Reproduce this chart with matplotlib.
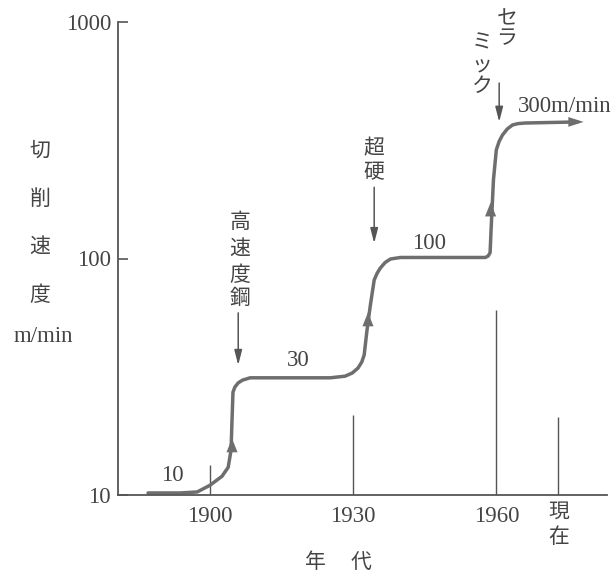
import numpy as np
import matplotlib.pyplot as plt

plt.rcParams['font.family'] = ['Liberation Serif', 'Noto Sans CJK JP']

# 切削速度の変遷
years = [1887.0, 1893.7, 1897.3, 1900.0, 1902.5, 1903.8, 1904.4, 1904.6, 1904.8,
         1905.2, 1905.9, 1906.8, 1908.4, 1925.2, 1928.3, 1929.8, 1931.0, 1931.8,
         1932.3, 1932.9, 1933.6, 1934.4, 1935.0, 1935.7, 1936.7, 1937.8, 1939.9,
         1957.7, 1958.3, 1958.7, 1958.9, 1959.4, 1960.0, 1960.6, 1961.3, 1962.3,
         1963.4, 1964.6, 1966.1, 1977.0]
speeds = [10.2, 10.2, 10.3, 11.0, 12.0, 13.1, 15.5, 20.7, 27.2,
          28.6, 29.8, 30.6, 31.3, 31.3, 31.8, 32.8, 34.4, 36.5,
          39.1, 49.9, 63.5, 81.1, 86.5, 91.2, 96.2, 99.5, 101,
          101, 102.5, 106, 132, 215, 288, 313, 333, 353,
          367, 372, 374, 378]

# 曲線上の矢印（上向き）
rise_years = [1904.6, 1933.1, 1958.8]
rise_speeds = [16.6, 56.6, 165]

# 目盛り線
tick_years = [1900, 1930, 1960, 1973]
tick_tops = [13.4, 21.8, 60.5, 21.4]
xtick_labels = ['1900', '1930', '1960']
ytick_vals = [10, 100, 1000]

# 材料の矢印 (年, 始点, 終点)
tool_arrows = [(1905.9, 58.9, 35.4), (1934.4, 200, 116), (1960.6, 552, 378)]

# 段の値ラベル
step_labels = ['10', '30', '100']
step_pos = [(1892.0, 10.9), (1918.5, 33.5), (1946.0, 104)]

W, H = 616, 574
grey = '#6e6e6e'
txt = '#444444'

fig = plt.figure(figsize=(W / 100, H / 100), dpi=100)
ax = fig.add_axes([118 / W, 79 / H, 489 / W, 473 / H])
ax.set_yscale('log')
ax.set_xlim(1880.7, 1983.2)
ax.set_ylim(10, 1000)

for s in ['top', 'right']:
    ax.spines[s].set_visible(False)
for s in ['left', 'bottom']:
    ax.spines[s].set_color('#555555')
    ax.spines[s].set_linewidth(1.3)

ax.set_yticks(ytick_vals, [str(v) for v in ytick_vals])
ax.yaxis.set_minor_locator(plt.NullLocator())
ax.tick_params(axis='y', direction='in', length=7, width=1.2, color='#555555',
               labelsize=16.5, labelcolor=txt, pad=5)
ax.set_xticks(tick_years[:3], xtick_labels)
ax.tick_params(axis='x', length=0, labelsize=16.5, labelcolor=txt, pad=8)

ax.vlines(tick_years, 10, tick_tops, color='#555555', lw=1.0)

ax.plot(years, speeds, color=grey, lw=2.5, solid_joinstyle='round',
        solid_capstyle='round')

for x, y in zip(rise_years, rise_speeds):
    ax.annotate('', xy=(x, y * 1.045), xytext=(x, y / 1.045),
                arrowprops=dict(arrowstyle='-|>,head_length=10,head_width=4',
                                mutation_scale=1, color=grey, lw=0,
                                shrinkA=0, shrinkB=0))
ax.annotate('', xy=(years[-1] + 1.3, speeds[-1]), xytext=(years[-1] - 1, speeds[-1]),
            arrowprops=dict(arrowstyle='-|>,head_length=11,head_width=3.5',
                            mutation_scale=1, color=grey, lw=0,
                            shrinkA=0, shrinkB=0), annotation_clip=False)

for x, y0, y1 in tool_arrows:
    ax.annotate('', xy=(x, y1), xytext=(x, y0),
                arrowprops=dict(arrowstyle='-|>,head_length=9,head_width=2.3',
                                mutation_scale=1, color='#555555', lw=1.1,
                                shrinkA=0, shrinkB=0), annotation_clip=False)

for s, (x, y) in zip(step_labels, step_pos):
    ax.text(x, y, s, fontsize=16.5, color=txt, ha='center', va='bottom')


def vstack(x, ys, chars, size=15):
    for ch, y in zip(chars, ys):
        fig.text(x / W, 1 - y / H, ch, ha='center', va='center',
                 fontsize=size, color=txt)


vstack(40, [152, 200, 248, 296], '切削速度')
fig.text(43 / W, 1 - 337 / H, 'm/min', ha='center', va='center',
         fontsize=16.5, color=txt)
vstack(240, [223, 250, 276, 299], '高速度鋼')
vstack(374, [150, 174], '超硬')
vstack(507, [20, 40], 'セラ')
vstack(482, [44, 66, 87], 'ミック')
vstack(559, [513, 538], '現在')
fig.text(315 / W, 1 - 563 / H, '年', ha='center', va='center', fontsize=15, color=txt)
fig.text(361 / W, 1 - 563 / H, '代', ha='center', va='center', fontsize=15, color=txt)
fig.text(518 / W, 1 - 106 / H, '300m/min', ha='left', va='center',
         fontsize=16.5, color=txt)

fig.savefig('out.png', dpi=100)
